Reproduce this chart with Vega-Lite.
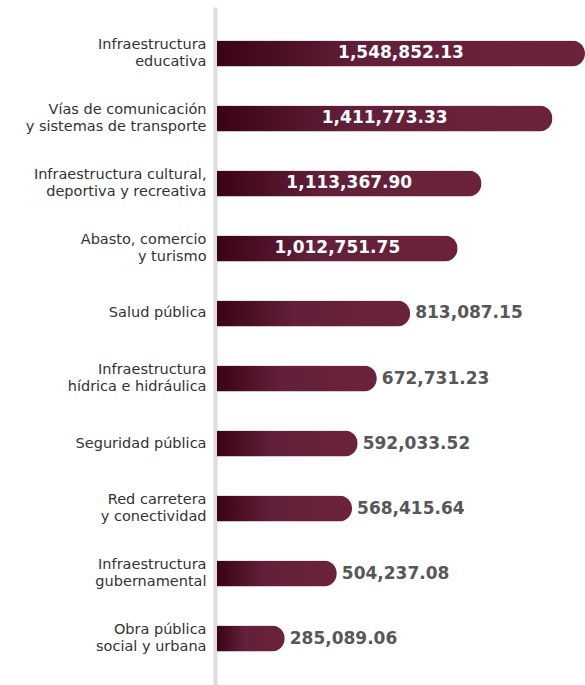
{
  "$schema": "https://vega.github.io/schema/vega-lite/v6.json",
  "autosize": {"type": "none"},
  "width": 368,
  "height": 678,
  "padding": {"left": 217, "top": 7, "right": 0, "bottom": 0},
  "background": "white",
  "config": {"view": {"stroke": null}},
  "data": {"values": [
    {"rubro": "Infraestructura|educativa", "monto": 1548852.13},
    {"rubro": "Vías de comunicación|y sistemas de transporte", "monto": 1411773.33},
    {"rubro": "Infraestructura cultural,|deportiva y recreativa", "monto": 1113367.90},
    {"rubro": "Abasto, comercio|y turismo", "monto": 1012751.75},
    {"rubro": "Salud pública", "monto": 813087.15},
    {"rubro": "Infraestructura|hídrica e hidráulica", "monto": 672731.23},
    {"rubro": "Seguridad pública", "monto": 592033.52},
    {"rubro": "Red carretera|y conectividad", "monto": 568415.64},
    {"rubro": "Infraestructura|gubernamental", "monto": 504237.08},
    {"rubro": "Obra pública|social y urbana", "monto": 285089.06}
  ]},
  "encoding": {
    "y": {
      "field": "rubro", "type": "nominal", "sort": null,
      "scale": {"paddingInner": 0.6, "paddingOuter": 0.515},
      "axis": {
        "title": null, "ticks": false, "grid": false,
        "domain": true, "domainColor": "#dcdcdc", "domainWidth": 4, "offset": 2,
        "labelExpr": "split(datum.label, '|')",
        "labelFont": "DejaVu Sans", "labelFontSize": 14.5, "labelColor": "#333333",
        "labelLineHeight": 17, "labelPadding": 9, "labelAlign": "right", "labelBaseline": "middle",
        "labelLimit": 214,
        "labelOffset": {"condition": {"test": "indexof(datum.value, '|') >= 0", "value": -8.5}, "value": 0}
      }
    }
  },
  "layer": [
    {
      "mark": {
        "type": "bar", "cornerRadiusEnd": 13,
        "color": {
          "gradient": "linear", "x1": 0, "x2": 1, "y1": 0, "y2": 0,
          "stops": [
            {"offset": 0, "color": "#3a0314"},
            {"offset": 0.4, "color": "#62203a"},
            {"offset": 1, "color": "#6c2339"}
          ]
        }
      },
      "encoding": {
        "x": {"field": "monto", "type": "quantitative", "scale": {"domain": [0, 1548852.13], "nice": false}, "axis": null}
      }
    },
    {
      "transform": [
        {"filter": "datum.monto >= 1000000"},
        {"calculate": "datum.monto / 2", "as": "medio"}
      ],
      "mark": {"type": "text", "align": "center", "baseline": "middle", "font": "DejaVu Sans", "fontWeight": "bold", "fontSize": 17, "color": "white"},
      "encoding": {
        "x": {"field": "medio", "type": "quantitative"},
        "text": {"field": "monto", "type": "quantitative", "format": ",.2f"}
      }
    },
    {
      "transform": [{"filter": "datum.monto < 1000000"}],
      "mark": {"type": "text", "align": "left", "baseline": "middle", "dx": 5, "font": "DejaVu Sans", "fontWeight": "bold", "fontSize": 17, "color": "#575757"},
      "encoding": {
        "x": {"field": "monto", "type": "quantitative"},
        "text": {"field": "monto", "type": "quantitative", "format": ",.2f"}
      }
    }
  ]
}
